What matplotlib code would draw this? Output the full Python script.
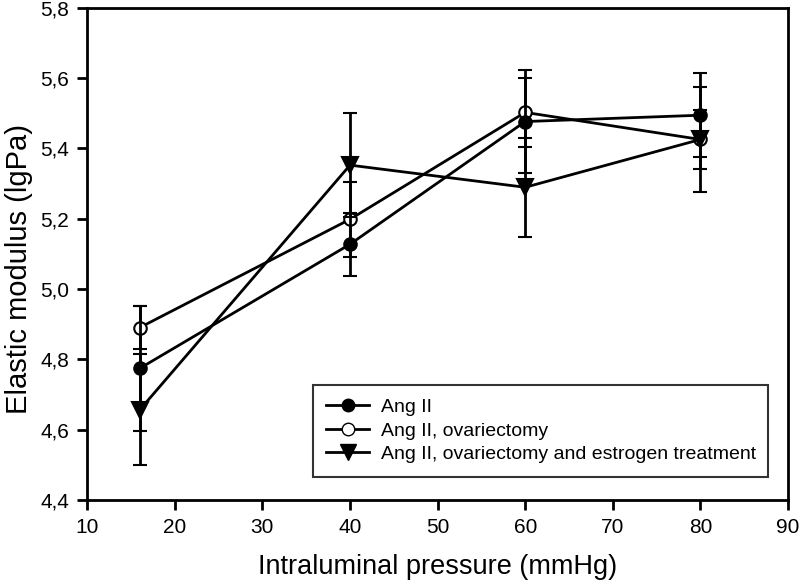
import matplotlib
matplotlib.use("Agg")
import matplotlib.pyplot as plt
from matplotlib.lines import Line2D
from matplotlib.ticker import FuncFormatter

plt.rcParams['font.family'] = ['Liberation Sans', 'DejaVu Sans']

# Data
pressure = [16, 40, 60, 80]

ang2 = [4.774, 5.127, 5.476, 5.494]
ang2_err = [0.177, 0.089, 0.146, 0.119]

ovx = [4.890, 5.198, 5.502, 5.425]
ovx_err = [0.060, 0.106, 0.098, 0.085]

estr = [4.656, 5.352, 5.289, 5.425]
estr_err = [0.158, 0.148, 0.141, 0.150]

labels = ["Ang II", "Ang II, ovariectomy",
          "Ang II, ovariectomy and estrogen treatment"]

fig = plt.figure(figsize=(8, 5.86), dpi=100)
ax = fig.add_axes([0.109, 0.147, 0.876, 0.840])

lw = 2.0
common = dict(color="black", lw=lw, capsize=5, capthick=lw, elinewidth=lw,
              markersize=9, markeredgecolor="black", markeredgewidth=1.5)

ax.errorbar(pressure, ang2, yerr=ang2_err, marker="o", markerfacecolor="black",
            zorder=3, **common)
ax.errorbar(pressure, ovx, yerr=ovx_err, marker="o", markerfacecolor="white",
            zorder=2, **common)
ax.errorbar(pressure, estr, yerr=estr_err, marker="v", markerfacecolor="black",
            zorder=4, **dict(common, markersize=12))

ax.set_xlim(10, 90)
ax.set_ylim(4.4, 5.8)
ax.set_xticks(range(10, 91, 10))
ax.set_yticks([4.4, 4.6, 4.8, 5.0, 5.2, 5.4, 5.6, 5.8])
ax.yaxis.set_major_formatter(FuncFormatter(lambda v, p: f"{v:.1f}".replace(".", ",")))

for s in ax.spines.values():
    s.set_linewidth(lw)
ax.tick_params(direction="out", length=7, width=lw, labelsize=15, pad=6)

ax.set_xlabel("Intraluminal pressure (mmHg)", fontsize=19.5, labelpad=12)
ax.set_ylabel("Elastic modulus (lgPa)", fontsize=21)
ax.yaxis.set_label_coords(-0.078, 0.47)

# legend handles without error bars, as in the original
handles = [
    Line2D([], [], color="black", lw=lw, marker="o", markersize=9,
           markerfacecolor="black", markeredgecolor="black"),
    Line2D([], [], color="black", lw=lw, marker="o", markersize=9,
           markerfacecolor="white", markeredgecolor="black"),
    Line2D([], [], color="black", lw=lw, marker="v", markersize=11,
           markerfacecolor="black", markeredgecolor="black"),
]
leg = ax.legend(handles, labels, loc="lower left",
                bbox_to_anchor=(0.322, 0.047, 0.649, 0.201),
                mode="expand", fontsize=14, frameon=True, fancybox=False,
                edgecolor="black", borderaxespad=0, handlelength=2.2,
                handletextpad=0.6, labelspacing=0.3, borderpad=0.7)
leg.get_frame().set_linewidth(1.5)

plt.savefig("out.png", dpi=100)
